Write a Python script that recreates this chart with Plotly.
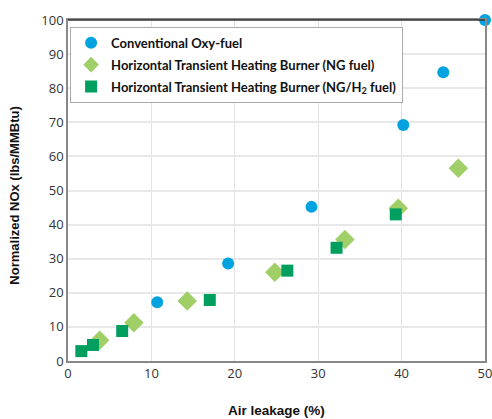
import plotly.graph_objects as go

oxy_x = [10.7, 19.2, 29.2, 40.2, 45.0, 50.0]
oxy_y = [17.2, 28.6, 45.2, 69.2, 84.7, 100.0]

ng_x = [3.8, 7.9, 14.3, 24.8, 33.2, 39.6, 46.8]
ng_y = [6.1, 11.2, 17.6, 26.0, 35.6, 44.8, 56.5]

h2_x = [1.6, 3.0, 6.5, 17.0, 26.3, 32.2, 39.3]
h2_y = [2.9, 4.7, 8.8, 17.9, 26.5, 33.2, 43.0]

x_ticks = [0, 10, 20, 30, 40, 50]
y_ticks = [0, 10, 20, 30, 40, 50, 60, 70, 80, 90, 100]

x_title = "Air leakage (%)"
y_title = "Normalized NOx (lbs/MMBtu)"

fig = go.Figure()
fig.add_trace(go.Scatter(x=oxy_x, y=oxy_y, mode="markers", name="Conventional Oxy-fuel", legendgroup="a",
                         marker=dict(symbol="circle", size=12, color="#00A3E0"), cliponaxis=False))
fig.add_trace(go.Scatter(x=ng_x, y=ng_y, mode="markers", name="Horizontal Transient Heating Burner (NG fuel)",
                         legendgroup="b",
                         marker=dict(symbol="diamond", size=15, color="#9FCF66"), cliponaxis=False))
fig.add_trace(go.Scatter(x=h2_x, y=h2_y, mode="markers", legendgroup="c",
                         name="Horizontal Transient Heating Burner (NG/H<sub>2</sub> fuel)",
                         marker=dict(symbol="square", size=12, color="#009F5F"), cliponaxis=False))

title_font = dict(family="Liberation Sans", size=13.5, color="#111111", weight="bold")

fig.update_layout(
    width=492, height=419,
    margin=dict(l=68, r=7, t=20, b=58, autoexpand=False),
    plot_bgcolor="white", paper_bgcolor="white",
    font=dict(family="Open Sans", color="#333333", size=13),
    showlegend=True,
    legend=dict(x=0.005, y=0.98, xanchor="left", yanchor="top",
                bgcolor="white", bordercolor="#aaaaaa", borderwidth=1,
                font=dict(family="Lato", size=13, color="#111111", weight="bold"),
                tracegroupgap=2, itemsizing="constant"),
    annotations=[
        dict(text=x_title, xref="paper", yref="paper", x=0.5, y=-0.145, xanchor="center", yanchor="middle",
             showarrow=False, font=title_font),
        dict(text=y_title, xref="paper", yref="paper", x=-0.127, y=0.485, xanchor="center", yanchor="middle",
             showarrow=False, textangle=-90, font=dict(title_font, size=13)),
    ],
    shapes=[
        dict(type="line", xref="paper", yref="paper", x0=0, x1=1, y0=1, y1=1,
             line=dict(color="#333333", width=1.5), layer="above"),
    ],
)
fig.update_xaxes(range=[0, 50], tickvals=x_ticks, showgrid=True, gridcolor="#e3e3e3", gridwidth=1,
                 showline=True, linecolor="#888888", linewidth=1.5, mirror=True, zeroline=False,
                 automargin=False, ticks="", ticklabeloverflow="allow",
                 tickfont=dict(family="Open Sans", size=13, color="#333333"))
fig.update_yaxes(range=[0, 100], tickvals=y_ticks, showgrid=True, gridcolor="#e8e8e8", gridwidth=1.5,
                 showline=True, linecolor="#888888", linewidth=1.5, mirror=True, zeroline=False,
                 automargin=False, ticks="", ticklabeloverflow="allow",
                 tickfont=dict(family="Open Sans", size=13, color="#333333"))

fig.write_html("out.html", config={"displayModeBar": False},
               post_script="document.body.style.margin='0';")
